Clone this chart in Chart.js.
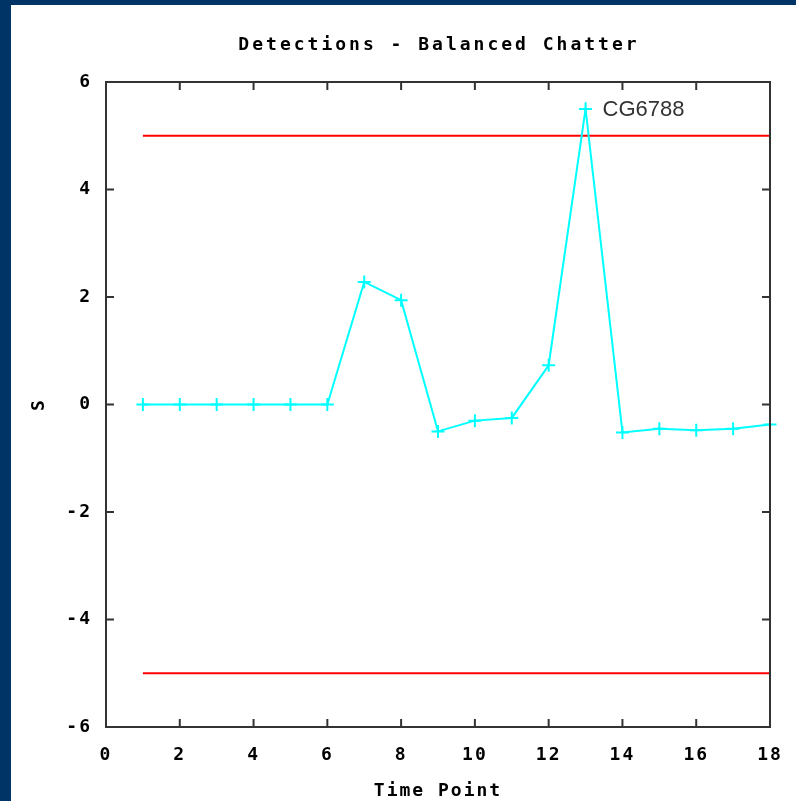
<!DOCTYPE html>
<html>
<head>
<meta charset="utf-8">
<script src="https://cdn.jsdelivr.net/npm/chart.js@4.4.0/dist/chart.umd.min.js"></script>
<style>
  html, body { margin: 0; padding: 0; background: #003366; width: 796px; height: 801px; overflow: hidden; }
  #wrap { position: absolute; left: 11px; top: 5px; width: 785px; height: 796px; background: #ffffff; }
</style>
</head>
<body>
<div id="wrap"><canvas id="myChart" width="785" height="796"></canvas></div>
<script>
// data
const chartTitle = 'Detections - Balanced Chatter';
const xTitle = 'Time Point';
const yTitle = 'S';
const timePoints = [1, 2, 3, 4, 5, 6, 7, 8, 9, 10, 11, 12, 13, 14, 15, 16, 17, 18];
const sValues = [0, 0, 0, 0, 0, 0, 2.28, 1.94, -0.5, -0.3, -0.25, 0.73, 5.5, -0.52, -0.45, -0.48, -0.45, -0.37];
const upperLimit = 5;
const lowerLimit = -5;
const peakLabel = 'CG6788';
const peakIndex = 12;

const monoFont = 'DejaVu Sans Mono';

// frame, inside ticks on all four sides, title and the peak label
const framePlugin = {
    id: 'frame',
    beforeDraw(chart) {
        chart.ctx.letterSpacing = '2px';
    },
    afterDatasetsDraw(chart) {
        const ctx = chart.ctx;
        const area = chart.chartArea;
        const xs = chart.scales.x;
        const ys = chart.scales.y;
        const len = 8;
        ctx.save();
        ctx.strokeStyle = '#333333';
        ctx.lineWidth = 2;
        ctx.beginPath();
        xs.ticks.forEach(t => {
            const px = xs.getPixelForValue(t.value);
            ctx.moveTo(px, area.bottom);
            ctx.lineTo(px, area.bottom - len);
            ctx.moveTo(px, area.top);
            ctx.lineTo(px, area.top + len);
        });
        ys.ticks.forEach(t => {
            const py = ys.getPixelForValue(t.value);
            ctx.moveTo(area.left, py);
            ctx.lineTo(area.left + len, py);
            ctx.moveTo(area.right, py);
            ctx.lineTo(area.right - len, py);
        });
        ctx.stroke();
        ctx.strokeRect(area.left, area.top, area.right - area.left, area.bottom - area.top);

        // label next to the peak point
        const px = xs.getPixelForValue(timePoints[peakIndex]);
        const py = ys.getPixelForValue(sValues[peakIndex]);
        ctx.letterSpacing = '0px';
        ctx.fillStyle = '#333333';
        ctx.font = '22px "Liberation Sans", Arial, sans-serif';
        ctx.textAlign = 'left';
        ctx.textBaseline = 'middle';
        ctx.fillText(peakLabel, px + 17, py + 1);

        // chart title
        ctx.letterSpacing = '3px';
        ctx.fillStyle = '#000000';
        ctx.font = 'bold 18px "' + monoFont + '"';
        ctx.textAlign = 'center';
        ctx.fillText(chartTitle, (area.left + area.right) / 2 + 1, 40);
        ctx.restore();
    }
};

const ctx = document.getElementById('myChart').getContext('2d');
const myChart = new Chart(ctx, {
    type: 'line',
    data: {
        datasets: [{
            label: 'S',
            data: timePoints.map((t, i) => ({x: t, y: sValues[i]})),
            borderColor: '#00ffff',
            backgroundColor: '#00ffff',
            borderWidth: 2,
            pointStyle: 'cross',
            pointRadius: 6.5,
            pointBorderWidth: 2,
            tension: 0
        }, {
            label: 'upper',
            data: [{x: timePoints[0], y: upperLimit}, {x: timePoints[timePoints.length - 1], y: upperLimit}],
            borderColor: '#ff0000',
            borderWidth: 2,
            pointRadius: 0
        }, {
            label: 'lower',
            data: [{x: timePoints[0], y: lowerLimit}, {x: timePoints[timePoints.length - 1], y: lowerLimit}],
            borderColor: '#ff0000',
            borderWidth: 2,
            pointRadius: 0
        }]
    },
    options: {
        responsive: false,
        animation: false,
        clip: false,
        layout: { padding: { top: 77, right: 26, left: 0, bottom: 0 } },
        plugins: {
            legend: { display: false },
            tooltip: { enabled: false },
            title: { display: false }
        },
        scales: {
            x: {
                type: 'linear',
                min: 0,
                max: 18,
                border: { display: false },
                grid: { display: false, drawTicks: false },
                ticks: {
                    stepSize: 2,
                    padding: 18,
                    color: '#000000',
                    font: { family: monoFont, size: 18, weight: 'bold' }
                },
                title: {
                    display: true,
                    text: xTitle,
                    color: '#000000',
                    font: { family: monoFont, size: 18, weight: 'bold' },
                    padding: { top: 0, bottom: -1 }
                },
                afterFit(scale) {
                    scale.height = 74;
                    scale.paddingLeft = 0;
                    scale.paddingRight = 0;
                }
            },
            y: {
                min: -6,
                max: 6,
                border: { display: false },
                grid: { display: false, drawTicks: false },
                ticks: {
                    stepSize: 2,
                    padding: 14,
                    color: '#000000',
                    font: { family: monoFont, size: 18, weight: 'bold' }
                },
                title: {
                    display: true,
                    text: yTitle,
                    color: '#000000',
                    font: { family: monoFont, size: 18, weight: 'bold' },
                    padding: { top: 18, bottom: 0 }
                },
                afterFit(scale) {
                    scale.width = 95;
                    scale.paddingTop = 0;
                    scale.paddingBottom = 0;
                }
            }
        }
    },
    plugins: [framePlugin]
});
</script>
</body>
</html>
